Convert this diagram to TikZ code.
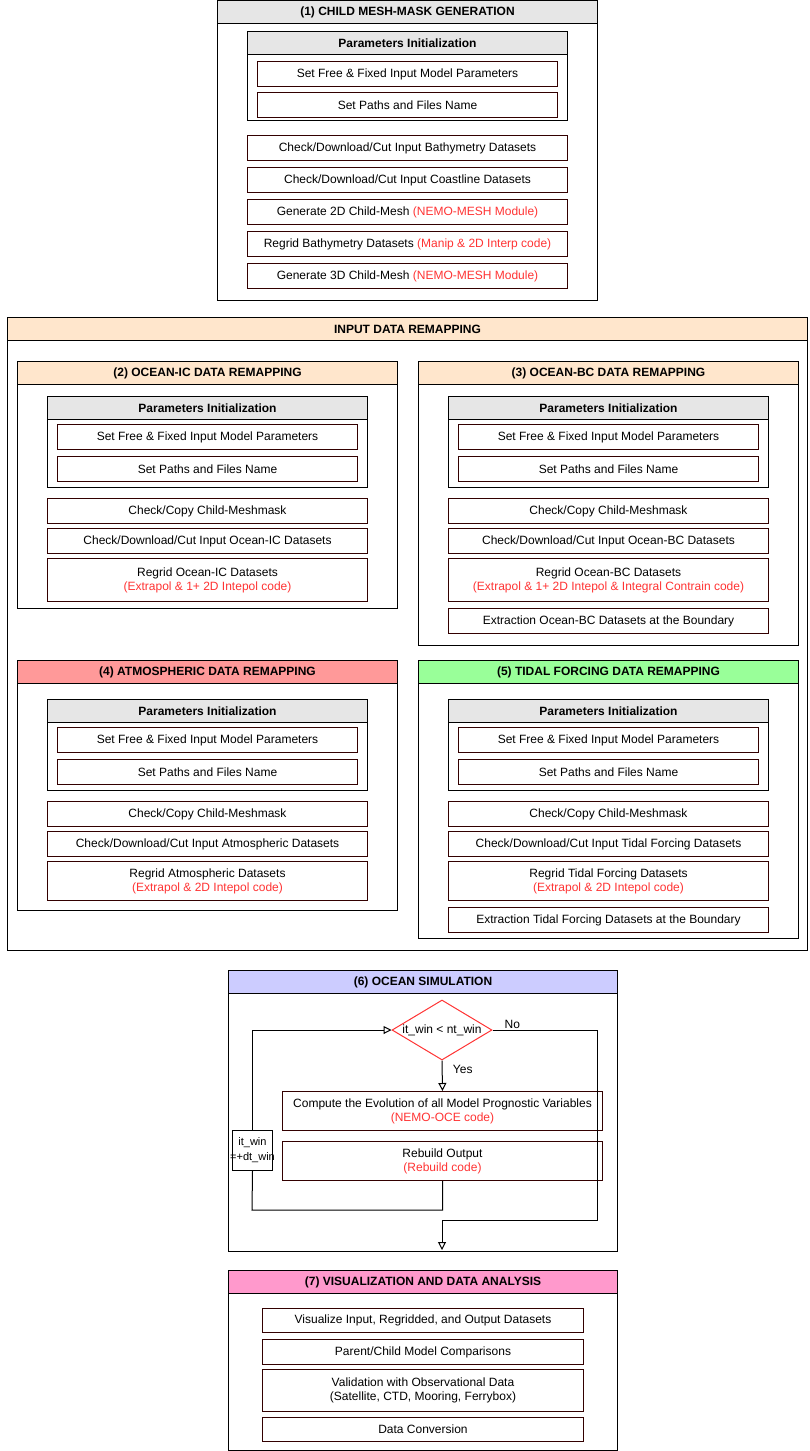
\documentclass[tikz,border=0pt]{standalone}
\usepackage{fontspec}
\setmainfont{Liberation Sans}
\usetikzlibrary{positioning, arrows.meta, shapes.geometric}

\definecolor{headgray}{RGB}{230,230,230}
\definecolor{headpeach}{RGB}{255,230,204}
\definecolor{headred}{RGB}{255,153,153}
\definecolor{headgreen}{RGB}{153,255,153}
\definecolor{headblue}{RGB}{204,204,255}
\definecolor{headpink}{RGB}{255,153,204}
\definecolor{taskline}{RGB}{51,0,0}
\definecolor{codered}{RGB}{255,51,51}

\begin{document}
\begin{tikzpicture}[%
		x=1pt, y=-1pt,
		line width=1pt,
		every node/.style={
			font=\fontsize{12pt}{14pt}\selectfont
		},
		frame/.style={
			rectangle,
			draw=black,
			anchor=north west,
			inner sep=0pt
		},
		head/.style={
			rectangle,
			draw=black,
			anchor=north west,
			minimum height=23pt,
			inner sep=0pt,
			font=\fontsize{12pt}{14pt}\selectfont\bfseries
		},
		task/.style={
			rectangle,
			draw=taskline,
			fill=white,
			anchor=north west,
			minimum width=300pt,
			minimum height=25pt,
			inner sep=0pt,
			align=center
		},
		wide/.style={
			minimum width=320pt
		},
		decision/.style={
			diamond,
			draw=codered,
			minimum width=100pt,
			minimum height=60pt,
			inner sep=0pt
		},
		flowarrow/.style={
			-{Triangle[open, length=8pt, width=8pt]}
		}]

		\useasboundingbox (0,0) rectangle (809,1451);

		% (1) CHILD MESH-MASK GENERATION

		\node (mesh) [frame, minimum width=380pt, minimum height=300pt] at (217,0) {};
		\node (mesh-h) [head, fill=headgray, minimum width=380pt] at (217,0) {(1) CHILD MESH-MASK GENERATION};
		\node (par-1) [frame, minimum width=320pt, minimum height=89pt] at (247,31) {};
		\node (par-1-h) [head, fill=headgray, minimum width=320pt] at (247,31) {Parameters Initialization};
		\node (set-1a) [task] at (257,61) {Set Free \& Fixed Input Model Parameters};
		\node (set-1b) [task] at (257,92) {Set Paths and Files Name};
		\node (bathy) [task, wide] at (247,135) {Check/Download/Cut Input Bathymetry Datasets};
		\node (coast) [task, wide] at (247,167) {Check/Download/Cut Input Coastline Datasets};
		\node (mesh2d) [task, wide] at (247,199) {Generate 2D Child-Mesh \textcolor{codered}{(NEMO-MESH Module)}};
		\node (regbathy) [task, wide] at (247,231) {Regrid Bathymetry Datasets \textcolor{codered}{(Manip \& 2D Interp code)}};
		\node (mesh3d) [task, wide] at (247,263) {Generate 3D Child-Mesh \textcolor{codered}{(NEMO-MESH Module)}};

		% INPUT DATA REMAPPING

		\node (input) [frame, minimum width=800pt, minimum height=633pt] at (7,317) {};
		\node (input-h) [head, fill=headpeach, minimum width=800pt] at (7,317) {INPUT DATA REMAPPING};

		% (2) OCEAN-IC

		\node (ic) [frame, minimum width=380pt, minimum height=247pt] at (17,361) {};
		\node (ic-h) [head, fill=headpeach, minimum width=380pt] at (17,361) {(2) OCEAN-IC DATA REMAPPING};
		\node (par-2) [frame, minimum width=320pt, minimum height=91pt] at (47,396) {};
		\node (par-2-h) [head, fill=headgray, minimum width=320pt] at (47,396) {Parameters Initialization};
		\node (set-2a) [task] at (57,424) {Set Free \& Fixed Input Model Parameters};
		\node (set-2b) [task] at (57,456) {Set Paths and Files Name};
		\node (copy-2) [task, wide] at (47,498) {Check/Copy Child-Meshmask};
		\node (cut-2) [task, wide] at (47,528) {Check/Download/Cut Input Ocean-IC Datasets};
		\node (reg-2) [task, wide, minimum height=43pt] at (47,558) {Regrid Ocean-IC Datasets\\\textcolor{codered}{(Extrapol \& 1+ 2D Intepol code)}};

		% (3) OCEAN-BC

		\node (bc) [frame, minimum width=380pt, minimum height=284pt] at (418,361) {};
		\node (bc-h) [head, fill=headpeach, minimum width=380pt] at (418,361) {(3) OCEAN-BC DATA REMAPPING};
		\node (par-3) [frame, minimum width=320pt, minimum height=91pt] at (448,396) {};
		\node (par-3-h) [head, fill=headgray, minimum width=320pt] at (448,396) {Parameters Initialization};
		\node (set-3a) [task] at (458,424) {Set Free \& Fixed Input Model Parameters};
		\node (set-3b) [task] at (458,456) {Set Paths and Files Name};
		\node (copy-3) [task, wide] at (448,498) {Check/Copy Child-Meshmask};
		\node (cut-3) [task, wide] at (448,528) {Check/Download/Cut Input Ocean-BC Datasets};
		\node (reg-3) [task, wide, minimum height=43pt] at (448,558) {Regrid Ocean-BC Datasets\\\textcolor{codered}{(Extrapol \& 1+ 2D Intepol \& Integral Contrain code)}};
		\node (ext-3) [task, wide] at (448,608) {Extraction Ocean-BC Datasets at the Boundary};

		% (4) ATMOSPHERIC

		\node (atm) [frame, minimum width=380pt, minimum height=250pt] at (17,660) {};
		\node (atm-h) [head, fill=headred, minimum width=380pt] at (17,660) {(4) ATMOSPHERIC DATA REMAPPING};
		\node (par-4) [frame, minimum width=320pt, minimum height=91pt] at (47,699) {};
		\node (par-4-h) [head, fill=headgray, minimum width=320pt] at (47,699) {Parameters Initialization};
		\node (set-4a) [task] at (57,727) {Set Free \& Fixed Input Model Parameters};
		\node (set-4b) [task] at (57,759) {Set Paths and Files Name};
		\node (copy-4) [task, wide] at (47,801) {Check/Copy Child-Meshmask};
		\node (cut-4) [task, wide] at (47,831) {Check/Download/Cut Input Atmospheric Datasets};
		\node (reg-4) [task, wide, minimum height=39pt] at (47,861) {Regrid Atmospheric Datasets\\\textcolor{codered}{(Extrapol \& 2D Intepol code)}};

		% (5) TIDAL FORCING

		\node (tide) [frame, minimum width=380pt, minimum height=278pt] at (418,660) {};
		\node (tide-h) [head, fill=headgreen, minimum width=380pt] at (418,660) {(5) TIDAL FORCING DATA REMAPPING};
		\node (par-5) [frame, minimum width=320pt, minimum height=91pt] at (448,699) {};
		\node (par-5-h) [head, fill=headgray, minimum width=320pt] at (448,699) {Parameters Initialization};
		\node (set-5a) [task] at (458,727) {Set Free \& Fixed Input Model Parameters};
		\node (set-5b) [task] at (458,759) {Set Paths and Files Name};
		\node (copy-5) [task, wide] at (448,801) {Check/Copy Child-Meshmask};
		\node (cut-5) [task, wide] at (448,831) {Check/Download/Cut Input Tidal Forcing Datasets};
		\node (reg-5) [task, wide, minimum height=39pt] at (448,861) {Regrid Tidal Forcing Datasets\\\textcolor{codered}{(Extrapol \& 2D Intepol code)}};
		\node (ext-5) [task, wide] at (448,907) {Extraction Tidal Forcing Datasets at the Boundary};

		% (6) OCEAN SIMULATION

		\node (sim) [frame, minimum width=389pt, minimum height=281pt] at (228,970) {};
		\node (sim-h) [head, fill=headblue, minimum width=389pt] at (228,970) {(6) OCEAN SIMULATION};
		\node (cond) [decision] at (442,1030) {};
		\node (cond-t) at (cond.center) {it\_win < nt\_win};
		\node (compute) [task, wide, minimum height=39pt] at (282,1091) {Compute the Evolution of all Model Prognostic Variables\\\textcolor{codered}{(NEMO-OCE code)}};
		\node (rebuild) [task, wide, minimum height=39pt] at (282,1141) {Rebuild Output\\\textcolor{codered}{(Rebuild code)}};
		\node (incr) [task, draw=black, minimum width=40pt, minimum height=40pt] at (232,1130) {};
		\node (incr-t) [align=center, inner sep=0pt, font=\fontsize{11pt}{15pt}\selectfont] at (incr.center) {it\_win\\=+dt\_win};

		\coordinate (loop-c) at (252,1210);
		\coordinate (no-a) at (597,1030);
		\coordinate (no-b) at (442,1220);
		\coordinate (sim-end) at (442,1250);

		% LOOP LINES

		\draw[flowarrow] (cond.south) -- node[right=7pt, pos=0.3] {Yes} (compute.north);
		\draw (rebuild.south) |- (loop-c) -- (incr.south);
		\draw[flowarrow] (incr.north) |- (cond.west);
		\draw[flowarrow] (cond.east) -- node[above, pos=0.19, inner sep=1pt] {No} (no-a) |- (no-b) -- (sim-end);

		% (7) VISUALIZATION

		\node (vis) [frame, minimum width=389pt, minimum height=180pt] at (228,1270) {};
		\node (vis-h) [head, fill=headpink, minimum width=389pt] at (228,1270) {(7) VISUALIZATION AND DATA ANALYSIS};
		\node (plot) [task, minimum width=321pt, minimum height=24pt] at (262,1308) {Visualize Input, Regridded, and Output Datasets};
		\node (compare) [task, minimum width=321pt] at (262,1339) {Parent/Child Model Comparisons};
		\node (valid) [task, minimum width=321pt, minimum height=42pt] at (262,1369) {Validation with Observational Data\\(Satellite, CTD, Mooring, Ferrybox)};
		\node (convert) [task, minimum width=321pt, minimum height=24pt] at (262,1417) {Data Conversion};
\end{tikzpicture}
\end{document}
